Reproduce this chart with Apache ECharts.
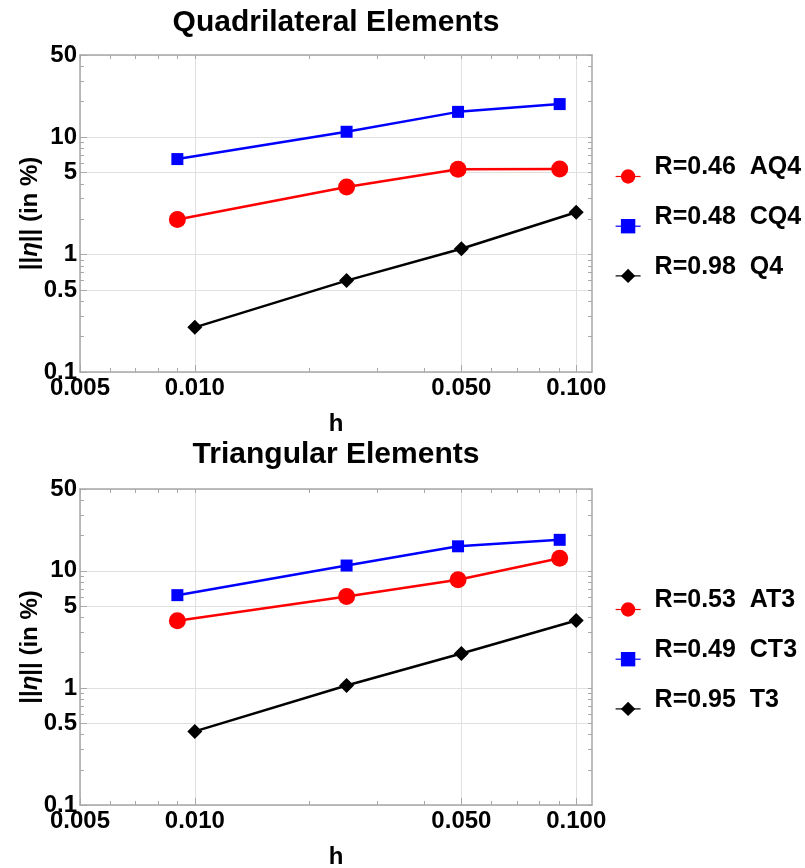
<!DOCTYPE html>
<html lang="en">
<head>
<meta charset="UTF-8">
<title>Quadrilateral / Triangular Elements</title>
<script src="https://cdn.jsdelivr.net/npm/echarts@6/dist/echarts.min.js"></script>
<style>
  html, body { margin: 0; padding: 0; background: #fff; }
  #main { width: 805px; height: 868px; }
</style>
</head>
<body>
<div id="main"></div>
<script type="text/javascript">
// mesh size h of each point
var hAdapt = [0.009, 0.025, 0.049, 0.0905];   // AQ4, CQ4, AT3, CT3
var hStd = [0.01, 0.025, 0.05, 0.1];          // Q4, T3

// error ||eta|| (in %)
var errAQ4 = [1.99, 3.76, 5.33, 5.35];
var errCQ4 = [6.5, 11.1, 16.4, 19.1];
var errQ4 = [0.24, 0.60, 1.12, 2.29];
var errAT3 = [3.74, 6.04, 8.4, 12.8];
var errCT3 = [6.2, 11.1, 16.2, 18.4];
var errT3 = [0.425, 1.05, 1.97, 3.76];

var namesQuad = ['R=0.46  AQ4', 'R=0.48  CQ4', 'R=0.98  Q4'];
var namesTri = ['R=0.53  AT3', 'R=0.49  CT3', 'R=0.95  T3'];

// tick marks
var xTicks = [0.005, 0.01, 0.05, 0.1];
var xTickLabels = ['0.005', '0.010', '0.050', '0.100'];
var xMinor = [0.006, 0.007, 0.008, 0.009, 0.02, 0.03, 0.04, 0.06, 0.07, 0.08, 0.09];
var yTicks = [0.1, 0.5, 1, 5, 10, 50];
var yTickLabels = ['0.1', '0.5', '1', '5', '10', '50'];
var yMinor = [0.2, 0.3, 0.4, 0.6, 0.7, 0.8, 0.9, 2, 3, 4, 6, 7, 8, 9, 20, 30, 40];

var font = "'Liberation Sans', Arial, sans-serif";
var frameColor = '#a8a8a8';
var gridColor = '#e0e0e0';
var labelStyle = { color: '#000', fontSize: 24, fontWeight: 'bold', fontFamily: font };

function pairs(xs, ys) {
    return xs.map(function (x, i) { return [x, ys[i]]; });
}

function pick(list, labels, v) {
    var i = list.indexOf(v);
    return i >= 0 ? labels[i] : '';
}

// 3 x axes per grid: main (bottom), frame top, minor ticks bottom
function makeXAxes(g) {
    var base = { type: 'log', logBase: 10, gridIndex: g, min: 0.005, max: 0.11 };
    return [
        Object.assign({}, base, {
            position: 'bottom',
            name: 'h', nameLocation: 'middle', nameGap: 40, nameMoveOverlap: false,
            nameTextStyle: { color: '#000', fontSize: 24, fontWeight: 'bold', fontFamily: font },
            axisLine: { show: true, lineStyle: { color: frameColor, width: 1.5 } },
            axisTick: { show: true, inside: true, length: 7, customValues: xTicks, lineStyle: { color: frameColor } },
            axisLabel: Object.assign({ customValues: xTicks, margin: 4,
                formatter: function (v) { return pick(xTicks, xTickLabels, v); } }, labelStyle),
            splitLine: { show: true, lineStyle: { color: gridColor, width: 1 } }
        }),
        Object.assign({}, base, {
            position: 'top',
            axisLine: { show: true, lineStyle: { color: frameColor, width: 1.5 } },
            axisTick: { show: true, inside: true, length: 4, customValues: xTicks.concat(xMinor), lineStyle: { color: frameColor } },
            axisLabel: { show: false },
            splitLine: { show: false }
        }),
        Object.assign({}, base, {
            position: 'bottom',
            axisLine: { show: false },
            axisTick: { show: true, inside: true, length: 4, customValues: xMinor, lineStyle: { color: frameColor } },
            axisLabel: { show: false },
            splitLine: { show: false }
        })
    ];
}

function makeYAxes(g) {
    var base = { type: 'log', logBase: 10, gridIndex: g, min: 0.1, max: 50 };
    return [
        Object.assign({}, base, {
            position: 'left',
            name: '||{i|η}|| (in %)', nameLocation: 'middle', nameGap: 38, nameRotate: 90,
            nameMoveOverlap: false,
            nameTextStyle: {
                color: '#000', fontSize: 24, fontWeight: 'bold', fontFamily: font,
                rich: { i: { color: '#000', fontSize: 24, fontWeight: 'bold', fontStyle: 'italic', fontFamily: font } }
            },
            axisLine: { show: true, lineStyle: { color: frameColor, width: 1.5 } },
            axisTick: { show: true, inside: true, length: 7, customValues: yTicks, lineStyle: { color: frameColor } },
            axisLabel: Object.assign({ customValues: yTicks, margin: 3,
                formatter: function (v) { return pick(yTicks, yTickLabels, v); } }, labelStyle),
            splitLine: { show: true, lineStyle: { color: gridColor, width: 1 } }
        }),
        Object.assign({}, base, {
            position: 'right',
            axisLine: { show: true, lineStyle: { color: frameColor, width: 1.5 } },
            axisTick: { show: true, inside: true, length: 4, customValues: yTicks.concat(yMinor), lineStyle: { color: frameColor } },
            axisLabel: { show: false },
            splitLine: { show: false }
        }),
        Object.assign({}, base, {
            position: 'left',
            axisLine: { show: false },
            axisTick: { show: true, inside: true, length: 4, customValues: yMinor, lineStyle: { color: frameColor } },
            axisLabel: { show: false },
            splitLine: { show: false }
        })
    ];
}

function makeSeries(g, name, xs, ys, color, symbol, size) {
    return {
        type: 'line', name: name,
        xAxisIndex: g * 3, yAxisIndex: g * 3,
        data: pairs(xs, ys),
        symbol: symbol, symbolSize: size,
        showSymbol: true,
        itemStyle: { color: color },
        lineStyle: { color: color, width: 2.5 },
        z: 3
    };
}

// legend text is drawn a little above its marker, as in the original
function makeLegend(names, top) {
    return {
        data: names, orient: 'vertical', left: 615, top: top, padding: 0,
        itemWidth: 25, itemHeight: 18, itemGap: 21,
        lineStyle: { width: 1.2 },
        formatter: function (name) { return '{t|' + name + '}'; },
        textStyle: {
            color: '#000', fontSize: 25, fontWeight: 'bold', fontFamily: font,
            rich: { t: { color: '#000', fontSize: 25, fontWeight: 'bold', fontFamily: font, padding: [0, 0, 18, 9] } }
        }
    };
}

var myChart = echarts.init(document.getElementById('main'));
var option = {
    animation: false,
    title: [
        { text: 'Quadrilateral Elements', left: 336, top: 8, textAlign: 'center', padding: 0,
          textStyle: { color: '#000', fontSize: 30, fontWeight: 'bold', fontFamily: font } },
        { text: 'Triangular Elements', left: 336, top: 440, textAlign: 'center', padding: 0,
          textStyle: { color: '#000', fontSize: 30, fontWeight: 'bold', fontFamily: font } }
    ],
    legend: [makeLegend(namesQuad, 155), makeLegend(namesTri, 588)],
    grid: [
        { left: 80, top: 55, width: 512, height: 317, outerBoundsMode: 'none' },
        { left: 80, top: 489, width: 512, height: 316, outerBoundsMode: 'none' }
    ],
    xAxis: makeXAxes(0).concat(makeXAxes(1)),
    yAxis: makeYAxes(0).concat(makeYAxes(1)),
    series: [
        makeSeries(0, namesQuad[0], hAdapt, errAQ4, '#ff0000', 'circle', 17),
        makeSeries(0, namesQuad[1], hAdapt, errCQ4, '#0000ff', 'rect', 12),
        makeSeries(0, namesQuad[2], hStd, errQ4, '#000000', 'diamond', 15),
        makeSeries(1, namesTri[0], hAdapt, errAT3, '#ff0000', 'circle', 17),
        makeSeries(1, namesTri[1], hAdapt, errCT3, '#0000ff', 'rect', 12),
        makeSeries(1, namesTri[2], hStd, errT3, '#000000', 'diamond', 15)
    ]
};
myChart.setOption(option);
</script>
</body>
</html>
